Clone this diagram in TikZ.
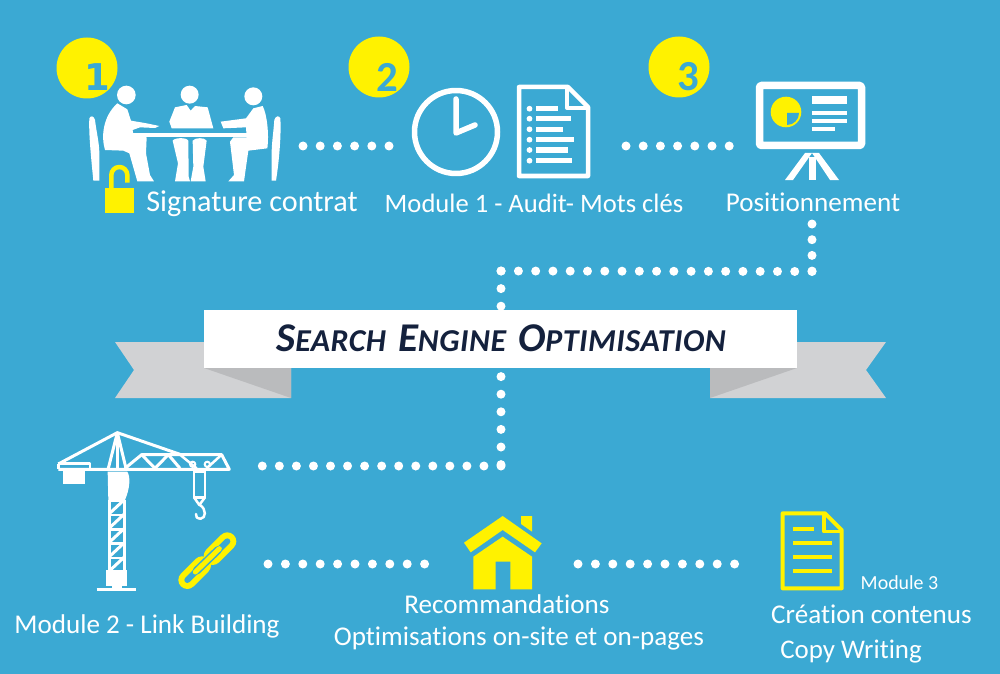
\documentclass[tikz,border=0pt]{standalone}
\usepackage{fontspec}
\setmainfont[Ligatures=NoCommon]{Carlito}
\newfontfamily\slabfont{DejaVu Sans}
\definecolor{skyblue}{HTML}{3BA9D3}
\definecolor{signyellow}{HTML}{FFF200}
\definecolor{ribbongray}{HTML}{D1D2D4}
\definecolor{foldgray}{HTML}{BABBBD}
\definecolor{titlenavy}{HTML}{14213D}
\tikzset{
  label/.style={text=white,inner sep=0pt,anchor=base},
  badge/.style={circle,fill=signyellow,minimum size=61bp,inner sep=0pt},
  digit/.style={text=skyblue,inner sep=0pt,font=\fontsize{43}{43}\selectfont\bfseries},
  dotline/.style={draw=white,line width=9bp,line cap=round,dash pattern=on 0pt off #1},
  stroke/.style={draw=white,line width=#1,line join=round},
  ystroke/.style={draw=signyellow,line width=#1,line join=round}
}
\newcommand{\capsword}[2]{{\fontsize{41}{41}\selectfont #1}{\fontsize{32}{41}\selectfont #2}}
\begin{document}
\begin{tikzpicture}[x=1bp,y=-1bp]
\useasboundingbox (0,0) rectangle (1000,674);
\fill[skyblue] (0,0) rectangle (1000,674);

\coordinate (d1a) at (303,146);
\coordinate (d1b) at (390,146);
\coordinate (d2a) at (626,146);
\coordinate (d2b) at (730,146);
\coordinate (d3a) at (812,224);
\coordinate (d3b) at (812,271.5);
\coordinate (d3c) at (501,271);
\coordinate (d3d) at (501,466);
\coordinate (d3e) at (262,466);
\coordinate (d4a) at (268,564);
\coordinate (d4b) at (426,564);
\coordinate (d5a) at (578,564);
\coordinate (d5b) at (736,564);

\path[dotline=17.2bp] (d1a) -- (d1b);
\path[dotline=17.2bp] (d2a) -- (d2b);
\path[dotline=15.7bp] (d3a) -- (d3b);
\path[dotline=17.27bp] (d3b) -- (d3c);
\path[dotline=17.6bp] (d3c) -- (d3d);
\path[dotline=17.05bp] (d3d) -- (d3e);
\path[dotline=17.4bp] (d4a) -- (d4b);
\path[dotline=17.4bp] (d5a) -- (d5b);

\fill[ribbongray] (115,342) -- (291,342) -- (291,398) -- (115,398) -- (134,370) -- cycle;
\fill[ribbongray] (886,342) -- (710,342) -- (710,398) -- (886,398) -- (866,370) -- cycle;
\fill[foldgray] (204,368) -- (291,368) -- (291,398) -- cycle;
\fill[foldgray] (797,368) -- (710,368) -- (710,398) -- cycle;
\node[fill=white,minimum width=593bp,minimum height=58bp,inner sep=0pt] (banner) at (500.5,339) {};
\node[text=titlenavy,inner sep=0pt,font=\bfseries\itshape\addfontfeature{LetterSpace=1.5}] (title) at (501,338.5) {\capsword{S}{EARCH}\hspace{12bp}\capsword{E}{NGINE}\hspace{12bp}\capsword{O}{PTIMISATION}};

\node[badge] (b1) at (87,68) {};
\node[badge] (b2) at (379,67) {};
\node[badge] (b3) at (679,67) {};
\node[digit] (n1) at (97,77) {\fontsize{37}{37}\selectfont\slabfont 1};
\node[digit] (n2) at (387,77) {2};
\node[digit] (n3) at (688,77) {3};

\begin{scope}[shift={(40,20)},scale=1/3]
\fill[white] (259,225) circle (28);
\fill[white] (449,224) circle (27);
\fill[white] (640,229) circle (27);
\fill[white] (260,339) rectangle (626,352);
\fill[white] (148,295) .. controls (152,285) and (162,288) .. (165,300) .. controls (170,340) and (178,370) .. (178,400) -- (178,482) -- (160,482) .. controls (152,400) and (146,340) .. (148,295) -- cycle;
\fill[white] (703,300) .. controls (706,288) and (718,285) .. (721,295) .. controls (724,340) and (718,420) .. (708,482) -- (695,482) -- (695,400) .. controls (695,370) and (700,340) .. (703,300) -- cycle;
\fill[white] (232,250) -- (262,268) -- (273,302) -- (320,310) -- (358,318) -- (345,324) -- (300,322) -- (278,330) -- (280,345) -- (320,352) -- (318,400) -- (330,465) -- (342,484) -- (292,484) -- (268,400) -- (250,392) -- (195,390) .. controls (183,350) and (188,290) .. (232,250) -- cycle;
\fill[white] (405,262) -- (440,255) -- (452,272) -- (465,258) -- (503,262) -- (520,325) -- (395,325) -- (388,305) -- cycle;
\fill[white] (398,362) .. controls (405,352) and (440,352) .. (445,362) -- (446,470) -- (450,484) -- (405,484) -- (414,430) -- cycle;
\fill[white] (458,362) .. controls (465,352) and (495,352) .. (500,362) -- (490,440) -- (497,484) -- (452,484) -- (460,440) -- cycle;
\fill[white] (668,258) .. controls (680,280) and (688,340) .. (682,385) -- (625,392) -- (612,484) -- (565,484) -- (582,465) -- (570,365) -- (580,352) -- (620,352) -- (618,322) -- (550,325) -- (542,305) -- (618,295) -- (640,265) -- cycle;
\fill[signyellow] (195,505) rectangle (283,578);
\draw[ystroke=4.5bp] (214,505) -- (214,465) arc[start angle=180,end angle=360,radius=24] -- (262,488);
\end{scope}

\draw[stroke=5.5bp] (456,132) circle (41.5);
\draw[stroke=5.5bp,line cap=round] (456,99) -- (456,133) -- (475,125);
\draw[stroke=4.5bp] (519,87) -- (568,87) -- (588,107) -- (588,176) -- (519,176) -- cycle;
\draw[stroke=4bp] (567,87) -- (567,108) -- (588,108);
\foreach \y/\w in {108.7/22,118.7/35,129.3/27,139.7/38,150/32,160.7/36}{
  \fill[white] (529.5,\y) circle (2.9);
  \fill[white] (536,\y-2.7) rectangle ++(\w,5.4);
}

\draw[stroke=7.5bp,rounded corners=1.5bp] (759.5,85.5) rectangle (861.5,145.5);
\fill[signyellow] (786,112) circle (15.3);
\fill[skyblue] (787,113) -- (799,113) arc[start angle=0,end angle=90,radius=12] -- cycle;
\fill[white] (812,96.5) rectangle (846.5,104.5);
\fill[white] (812,111.5) rectangle (846.5,115.5);
\fill[white] (812,119) rectangle (846.5,123);
\fill[white] (812,127) rectangle (835,131);
\fill[white] (805,153) -- (812,153) -- (793,180) -- (785,180) -- cycle;
\fill[white] (812,153) -- (819,153) -- (839,180) -- (830,180) -- cycle;
\fill[white] (808.5,157) -- (816,157) -- (816,180) -- (808.5,180) -- cycle;

\begin{scope}[shift={(40,420)},scale=1/3]
\fill[white] (68,150) rectangle (135,192);
\draw[stroke=3bp] (55,148) -- (568,148) -- (545,104) -- (305,104) -- (255,145);
\draw[stroke=3bp] (55,132) -- (232,38) -- (420,103);
\draw[stroke=3bp] (55,132) -- (55,148);
\draw[stroke=2.5bp] (55,130) -- (150,130) -- (150,148);
\draw[stroke=3bp] (205,145) -- (232,38) -- (258,145);
\draw[stroke=2.5bp] (232,38) -- (232,145);
\draw[stroke=3bp] (305,104) -- (345,145) -- (385,104) -- (420,145);
\draw[stroke=2.5bp] (420,104) -- (470,145);
\draw[stroke=2.5bp] (545,104) -- (500,145);
\draw[stroke=2bp] (458,133) circle (8) (502,133) circle (8);
\fill[white] (203,155) -- (262,155) .. controls (272,170) and (270,205) .. (255,240) -- (205,240) -- cycle;
\draw[stroke=3bp] (209,240) -- (209,450) (252,240) -- (252,450);
\foreach \y in {240,283,326,369,412}{
  \draw[stroke=2.5bp] (209,\y+2) -- (252,\y+2);
  \draw[stroke=3bp] (209,\y+40) -- (252,\y);
}
\fill[white] (197,450) rectangle (262,498);
\draw[stroke=3bp] (170,507) -- (288,507);
\fill[white] (215,498) rectangle (245,507);
\draw[stroke=2.5bp] (462,150) -- (462,232) -- (495,232) -- (495,150) -- cycle;
\fill[white] (458,145) rectangle (498,160);
\draw[stroke=2.5bp] (462,232) -- (478,255) -- (495,232);
\draw[stroke=2.5bp,line cap=round] (480,255) .. controls (500,268) and (498,295) .. (482,296) .. controls (472,296) and (465,290) .. (468,282);
\end{scope}

\begin{scope}[shift={(40,420)},scale=1/3]
\draw[ystroke=18bp,line cap=round] (518,408) -- (562,364);
\draw[skyblue,line width=6bp,line cap=round] (518,408) -- (562,364);
\draw[ystroke=18bp,line cap=round] (442,480) -- (486,436);
\draw[skyblue,line width=6bp,line cap=round] (442,480) -- (486,436);
\draw[skyblue,line width=8bp,line cap=round] (470,452) -- (534,390);
\draw[ystroke=5bp,line cap=round] (466,456) -- (538,386);
\end{scope}

\begin{scope}[shift={(440,500)},scale=1/3]
\fill[signyellow] (72,128) -- (188,48) -- (305,130) -- (285,157) -- (188,90) -- (92,157) -- cycle;
\fill[signyellow] (243,48) -- (276,48) -- (276,95) -- (243,72) -- cycle;
\fill[signyellow] (100,170) -- (188,110) -- (276,170) -- (276,268) -- (211,268) -- (211,185) -- (167,185) -- (167,268) -- (100,268) -- cycle;
\end{scope}

\begin{scope}[shift={(750,500)},scale=1/3]
\draw[ystroke=4bp] (98,40) -- (225,40) -- (275,90) -- (275,265) -- (98,265) -- cycle;
\draw[ystroke=3.5bp] (222,40) -- (222,95) -- (275,95);
\draw[ystroke=4bp] (130,88) -- (193,88);
\draw[ystroke=4bp] (130,129) -- (245,129);
\draw[ystroke=4bp] (130,171) -- (245,171);
\draw[ystroke=4bp] (130,213) -- (245,213);
\end{scope}

\node[label,font=\fontsize{30.3}{30}\selectfont] (sign) at (252,211) {Signature contrat};
\node[label,font=\fontsize{26.7}{26}\selectfont] (audit) at (534,212) {Module 1 - Audit- Mots clés};
\node[label,font=\fontsize{27.2}{26}\selectfont] (posit) at (813,211) {Positionnement};
\node[label,font=\fontsize{27.2}{26}\selectfont] (link) at (147,633) {Module 2 - Link Building};
\node[label,font=\fontsize{27.2}{26}\selectfont] (reco) at (507,613) {Recommandations};
\node[label,font=\fontsize{27.2}{26}\selectfont] (onsite) at (519,645) {Optimisations on-site et on-pages};
\node[label,font=\fontsize{20}{20}\selectfont] (mod3) at (899.5,589) {Module 3};
\node[label,font=\fontsize{27.2}{27}\selectfont] (crea) at (871.5,623) {Création contenus};
\node[label,font=\fontsize{27}{27}\selectfont] (copy) at (851,658) {Copy Writing};
\end{tikzpicture}
\end{document}
